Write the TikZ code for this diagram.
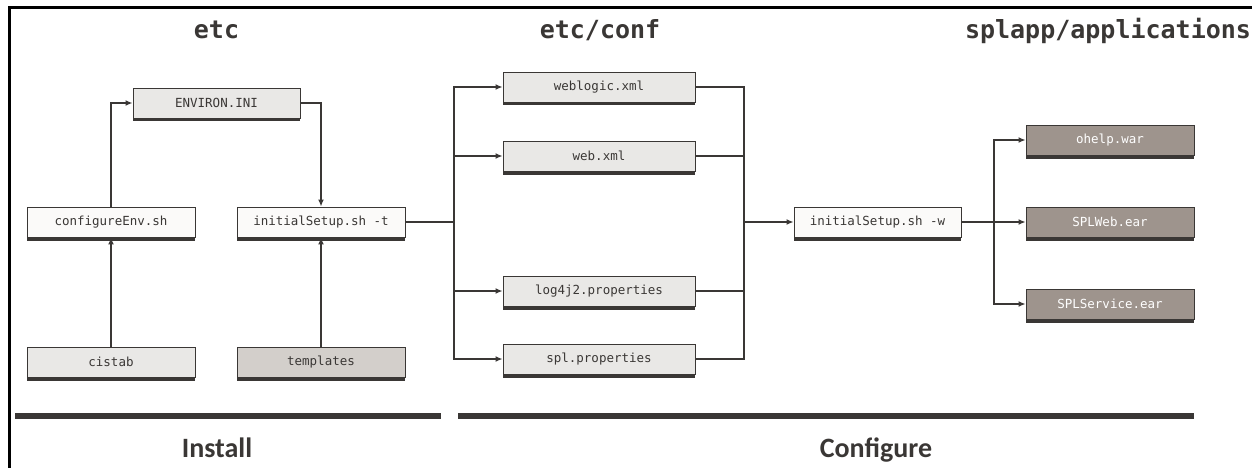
\documentclass[tikz,border=0pt]{standalone}
\usepackage{fontspec}
\usepackage{tikz}
\usetikzlibrary{arrows.meta,shadows}
\newfontfamily\monofont{DejaVu Sans Mono}
\newfontfamily\phasefont{Carlito}
\definecolor{linegray}{HTML}{3A3735}
\definecolor{lightfill}{HTML}{E9E8E6}
\definecolor{whitefill}{HTML}{FBFAF9}
\definecolor{tmplfill}{HTML}{D3CFCB}
\definecolor{appfill}{HTML}{9E948D}

\begin{document}
\begin{tikzpicture}[x=1pt,y=-1pt,
  filebox/.style={draw=linegray,line width=0.9pt,minimum height=30pt,
    font=\monofont\fontsize{12.5}{14}\selectfont,text=linegray,
    general shadow={fill=linegray,shadow yshift=-3.5pt}},
  lightbox/.style={filebox,fill=lightfill},
  plainbox/.style={filebox,fill=whitefill},
  tmplbox/.style={filebox,fill=tmplfill},
  appbox/.style={filebox,fill=appfill,text=white,minimum width=168pt},
  flow/.style={draw=linegray,line width=1.8pt,-{Latex[length=7pt,width=6pt]}},
  wire/.style={draw=linegray,line width=1.8pt},
  title/.style={anchor=base,font=\monofont\bfseries\fontsize{25}{28}\selectfont,text=linegray},
  phase/.style={anchor=base,font=\phasefont\bfseries\fontsize{28}{32}\selectfont,text=linegray}]
\useasboundingbox (0,0) rectangle (1252,468);
\draw[line width=3pt] (9,468) -- (9,8) -- (1252,8);

% headings
\node[title] (hetc) at (216.5,39) {etc};
\node[title] (hconf) at (600,39) {etc/conf};
\node[title] (happs) at (1108,39) {splapp/applications};

% install part
\node[lightbox,minimum width=167pt] (envini) at (216.5,103) {ENVIRON.INI};
\node[plainbox,minimum width=168pt] (confenv) at (111,222) {configureEnv.sh};
\node[plainbox,minimum width=168pt] (setupt) at (321,222) {initialSetup.sh -t};
\node[lightbox,minimum width=168pt] (cistab) at (111,362) {cistab};
\node[tmplbox,minimum width=168pt] (tmpl) at (321,362) {templates};

\draw[flow] (cistab) -- (confenv);
\draw[flow] (tmpl) -- (setupt);
\draw[flow] (confenv.north) |- (envini.west);
\draw[flow] (envini.east) -| (setupt.north);

% configure part
\node[lightbox,minimum width=192pt] (weblogic) at (599,87) {weblogic.xml};
\node[lightbox,minimum width=192pt] (webxml) at (599,156) {web.xml};
\node[lightbox,minimum width=192pt] (logprops) at (599,291) {log4j2.properties};
\node[lightbox,minimum width=192pt] (splprops) at (599,359) {spl.properties};
\node[plainbox,minimum width=167pt] (setupw) at (877.5,222) {initialSetup.sh -w};

\coordinate (lsplit) at (454,222);
\coordinate (rjoin) at (744,222);
\draw[wire] (setupt.east) -- (lsplit);
\foreach \f in {weblogic,webxml,logprops,splprops}
  \draw[flow] (lsplit) |- (\f.west);
\foreach \f in {weblogic,webxml,logprops,splprops}
  \draw[wire] (\f.east) -| (rjoin);
\draw[flow] (rjoin) -- (setupw.west);

% applications
\node[appbox] (ohelp) at (1110,140) {ohelp.war};
\node[appbox] (splweb) at (1110,222) {SPLWeb.ear};
\node[appbox] (splsvc) at (1110,304) {SPLService.ear};

\coordinate (asplit) at (994,222);
\draw[wire] (setupw.east) -- (asplit);
\foreach \a in {ohelp,splweb,splsvc}
  \draw[flow] (asplit) |- (\a.west);

% phases
\coordinate (ibarl) at (15,416);
\coordinate (ibarr) at (441,416);
\coordinate (cbarl) at (458,416);
\coordinate (cbarr) at (1194,416);
\draw[line width=6pt,linegray] (ibarl) -- (ibarr);
\draw[line width=6pt,linegray] (cbarl) -- (cbarr);
\node[phase] (install) at (217,457) {Install};
\node[phase] (configure) at (876,457) {Configure};
\end{tikzpicture}
\end{document}
